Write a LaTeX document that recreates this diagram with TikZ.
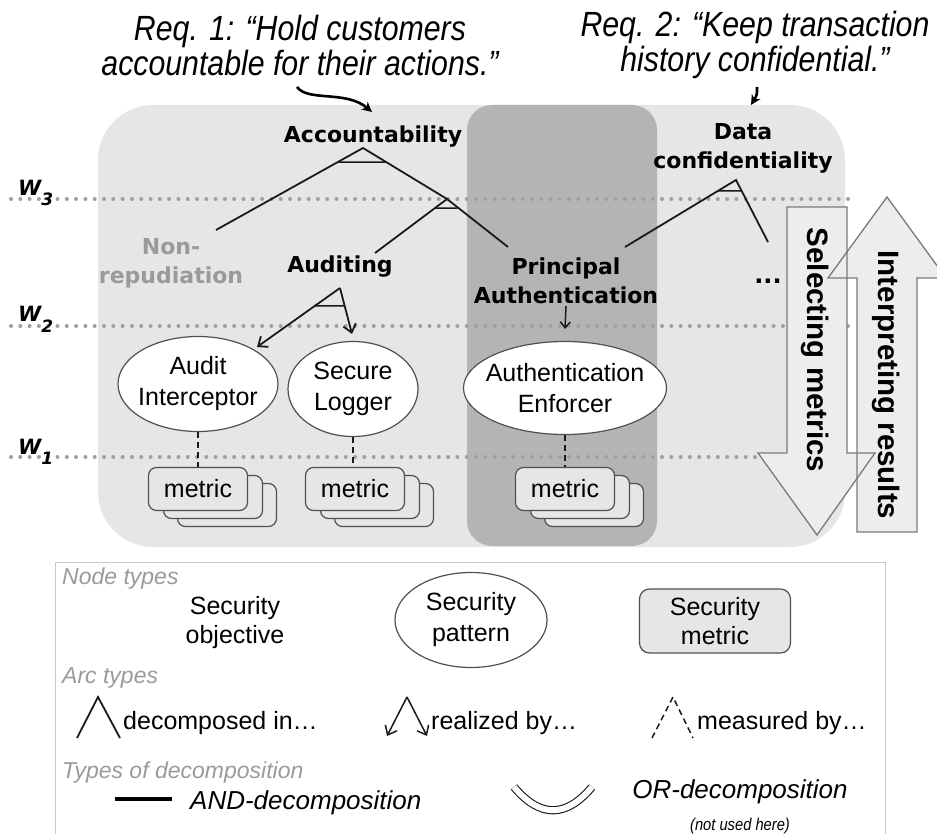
\documentclass[tikz,border=0pt]{standalone}
\usepackage{fontspec}
\setmainfont{Liberation Sans}
\newfontfamily\narrowfont[FakeStretch=0.865]{Liberation Sans}
\newfontfamily\objfont{DejaVu Sans}
\usetikzlibrary{arrows.meta,shapes.geometric,calc}
\newcommand\myfs[2]{\fontsize{#1}{#2}\selectfont}
\definecolor{bgA}{HTML}{E6E6E6}
\definecolor{bgB}{HTML}{B4B4B4}
\definecolor{dotc}{HTML}{A0A0A0}
\definecolor{edgec}{HTML}{505050}
\definecolor{ltxt}{HTML}{9A9A9A}
\definecolor{arrf}{HTML}{EDEDED}
\definecolor{arre}{HTML}{7A7A7A}
\definecolor{legb}{HTML}{C8C8C8}
\definecolor{linec}{HTML}{1A1A1A}
\begin{document}
\begin{tikzpicture}[x=1pt,y=-1pt,
  every node/.style={inner sep=0pt},
  objnode/.style={font=\objfont\bfseries\myfs{22}{29}, align=center},
  patnode/.style={ellipse, draw=edgec, line width=1.2pt, fill=white, font=\myfs{25}{31}, align=center, inner xsep=-30pt, inner ysep=-15pt},
  metnode/.style={rectangle, rounded corners=8pt, draw=edgec, line width=1.2pt, fill=bgA, minimum width=99pt, minimum height=43pt, font=\myfs{25}{30}},
  decline/.style={linec, line width=1.8pt},
  barline/.style={linec, line width=1.5pt},
  realline/.style={decline, -{Straight Barb[length=8pt,width=13pt]}},
  measline/.style={linec, line width=1.5pt, dash pattern=on 6pt off 4pt},
  wline/.style={dotc, line width=4pt, line cap=round, dash pattern=on 0pt off 9.3pt},
  wlabel/.style={font=\objfont\bfseries\itshape\myfs{21}{21}, anchor=base west},
  reqtext/.style={font=\narrowfont\itshape\myfs{35}{35}, align=center},
  reqarrow/.style={black, line width=2.6pt, -{Stealth[length=10pt,width=10pt]}},
  bigarrow/.style={draw=arre, line width=1.3pt},
  arrowtext/.style={font=\bfseries\myfs{29.5}{30}, rotate=-90},
  leghead/.style={ltxt, font=\itshape\myfs{23}{26}, anchor=base west},
  legtext/.style={font=\myfs{25}{29}, align=center}
]
\useasboundingbox (0,0) rectangle (937,834);
\clip (0,0) rectangle (937,834);

% background panels
\fill[bgA, rounded corners=55pt] (98,105) rectangle (845,547);
\fill[bgB, rounded corners=25pt] (467,105) rectangle (657,546);

% level lines
\draw[wline] (11,199) -- (848,199);
\draw[wline] (11,326) -- (848,326);
\draw[wline] (11,457) -- (848,457);
\node[wlabel] (w3) at (18,196) {W\raisebox{-10pt}{\myfs{17}{17}3}};
\node[wlabel] (w2) at (18,322) {W\raisebox{-10pt}{\myfs{17}{17}2}};
\node[wlabel] (w1) at (18,454) {W\raisebox{-10pt}{\myfs{17}{17}1}};

% requirements
\node[reqtext] (req1) at (300,45) {Req. 1: “Hold customers\\accountable for their actions.”};
\node[reqtext] (req2) at (755,45) {Req. 2: “Keep transaction\\history confidential.”};
\coordinate (r1s) at (297,87);
\coordinate (r1e) at (372,112);
\coordinate (r2s) at (757,87);
\coordinate (r2e) at (751,105);
\draw[reqarrow] (r1s) .. controls (308,102) and (346,90) .. (r1e);
\draw[reqarrow] (r2s) .. controls (757,95) .. (r2e);

% objectives
\node[objnode, anchor=base] (acc) at (373,143) {Accountability};
\node[objnode, text=ltxt] (nonrep) at (171,263) {Non-\\repudiation};
\node[objnode, anchor=base] (aud) at (340,273) {Auditing};
\node[objnode] (pa) at (566,281) {Principal\\Authentication};
\node[objnode] (dc) at (743,148) {Data\\confidentiality};
\node[font=\objfont\bfseries\myfs{24}{24}, anchor=base] (more) at (768,284) {...};

% decomposition points
\coordinate (accA) at (363,148);
\coordinate (nrE) at (216,230);
\coordinate (midA) at (447,199);
\coordinate (audE) at (375,253);
\coordinate (paL) at (508,247);
\coordinate (dcA) at (736,180);
\coordinate (paR) at (625,247);
\coordinate (moreE) at (768,242);
\coordinate (audA) at (340,288);
\coordinate (aiE) at (257,347);
\coordinate (slE) at (352,334);

\draw[decline] (nrE) -- (accA) -- (midA) -- (paL);
\draw[barline] ($(accA)!0.171!(nrE)$) -- ($(accA)!0.275!(midA)$);
\draw[decline] (midA) -- (audE);
\draw[barline] ($(midA)!0.167!(audE)$) -- ($(midA)!0.1875!(paL)$);
\draw[decline] (paR) -- (dcA) -- (moreE);
\draw[barline] ($(dcA)!0.164!(paR)$) -- ($(dcA)!0.177!(moreE)$);
\draw[realline] (audA) -- (aiE);
\draw[realline] (audA) -- (slE);
\draw[barline] ($(audA)!0.305!(aiE)$) -- ($(audA)!0.39!(slE)$);
\draw[linec, line width=1.5pt, -{Straight Barb[length=6pt,width=10pt]}] (pa.south) ++(0,2) -- (565,329);

% patterns
\node[patnode, minimum width=160pt, minimum height=95pt] (ai) at (198,384) {Audit\\Interceptor};
\node[patnode, minimum width=130pt, minimum height=95pt] (sl) at (353,389) {Secure\\Logger};
\node[patnode, minimum width=203pt, minimum height=93pt] (ae) at (565,388) {Authentication\\Enforcer};

% metrics
\node[metnode] (m1c) at (227,505) {};
\node[metnode] (m1b) at (213,497) {};
\node[metnode] (m1) at (198,489) {metric};
\node[metnode] (m2c) at (384,505) {};
\node[metnode] (m2b) at (370,497) {};
\node[metnode] (m2) at (355,489) {metric};
\node[metnode] (m3c) at (594,505) {};
\node[metnode] (m3b) at (580,497) {};
\node[metnode] (m3) at (565,489) {metric};
\draw[measline] (ai.south) -- (ai.south |- m1.north);
\draw[measline] (sl.south) -- (sl.south |- m2.north);
\draw[measline] (ae.south) -- (ae.south |- m3.north);

% big arrows
\fill[arrf] (787,207) -- (847,207) -- (847,453) -- (875,453) -- (817,535) -- (758,453) -- (787,453) -- cycle;
\fill[arrf] (857,532) -- (917,532) -- (917,278) -- (946,278) -- (887,197) -- (828,278) -- (857,278) -- cycle;
\draw[bigarrow] (787,207) -- (847,207) -- (847,453) -- (875,453) -- (817,535) -- (758,453) -- (787,453) -- cycle;
\draw[bigarrow] (857,532) -- (917,532) -- (917,278) -- (946,278) -- (887,197) -- (828,278) -- (857,278) -- cycle;
\node[arrowtext] (selm) at (815,350) {Selecting metrics};
\node[arrowtext] (intr) at (886,385) {Interpreting results};

% legend
\draw[legb, line width=1pt] (55,845) -- (55,562) -- (885,562) -- (885,845);
\node[leghead] (lnt) at (62,584) {Node types};
\node[legtext] (lobj) at (235,623) {Security\\objective};
\node[patnode, minimum width=152pt, minimum height=95pt] (lpat) at (471,620) {Security\\pattern};
\node[metnode, minimum width=151pt, minimum height=64pt, rounded corners=10pt, align=center, font=\myfs{25}{29}] (lmet) at (715,621) {Security\\metric};
\node[leghead] (lat) at (62,683) {Arc types};
\coordinate (d1a) at (77,738);
\coordinate (d1b) at (98,697);
\coordinate (d1c) at (120,738);
\draw[decline] (d1a) -- (d1b) -- (d1c);
\node[legtext, anchor=west] (ldec) at (123,723) {decomposed in…};
\coordinate (r1a) at (387,736);
\coordinate (r1b) at (407,697);
\coordinate (r1c) at (427,736);
\draw[realline, line width=1.5pt] (r1b) -- (r1a);
\draw[realline, line width=1.5pt] (r1b) -- (r1c);
\node[legtext, anchor=west] (lreal) at (431,723) {realized by…};
\coordinate (ma) at (652,738);
\coordinate (mb) at (673,697);
\coordinate (mc) at (693,738);
\draw[measline] (ma) -- (mb) -- (mc);
\node[legtext, anchor=west] (lmeas) at (697,723) {measured by…};
\node[leghead] (ltd) at (62,778) {Types of decomposition};
\coordinate (anda) at (115,799);
\coordinate (andb) at (172,799);
\draw[black, line width=4pt] (anda) -- (andb);
\node[font=\itshape\myfs{26}{26}, anchor=west] (land) at (190,803) {AND-decomposition};
\coordinate (ora) at (514,787);
\coordinate (orb) at (592,787);
\draw[linec, line width=1.1pt, double=white, double distance=6pt] (ora) .. controls (540,818) and (566,818) .. (orb);
\node[font=\itshape\myfs{26}{26}] (lor) at (740,792) {OR-decomposition};
\node[font=\narrowfont\itshape\myfs{17}{17}] (lnot) at (740,826) {(not used here)};
\end{tikzpicture}
\end{document}
